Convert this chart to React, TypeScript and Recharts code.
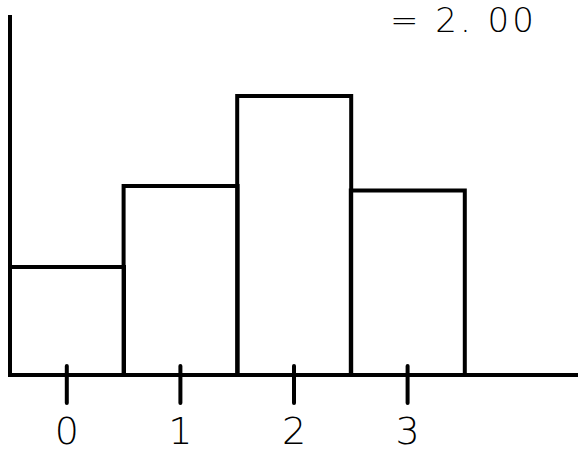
import React from 'react';
import { BarChart, Bar, XAxis, YAxis } from 'recharts';

// hand-drawn histogram: bin labels and bar heights
const bins = ['0', '1', '2', '3', ''];
const counts = [1.2, 2.1, 3.1, 2.05, null];
const yTicks = [0, 4];
const noteText = '= 2. 00';

const data = bins.map((bin, i) => ({ bin, count: counts[i] }));

const INK = '#000000';
const FONT = '"DejaVu Sans", sans-serif';
const TICK_SIZE = 28;
const TICK_MARGIN = 14;

// tick mark crosses the axis; empty bins get no mark
const BinTick = (props: any) => {
  const { x, y, payload } = props;
  if (!payload || payload.value === '') return null;
  const axisY = y - TICK_SIZE - TICK_MARGIN;
  return (
    <g>
      <line x1={x} x2={x} y1={axisY - 9} y2={axisY + TICK_SIZE} stroke={INK} strokeWidth={4} strokeLinecap="round" />
      <text x={x} y={y} dy="0.71em" textAnchor="middle" fill={INK} fontSize={38} fontFamily={FONT} fontWeight={300}>
        {payload.value}
      </text>
    </g>
  );
};

export default function App() {
  return (
    <div style={{ position: 'fixed', top: 0, left: 0, width: 580, height: 465, background: '#fff', overflow: 'hidden' }}>
      <div
        style={{
          position: 'absolute',
          top: 2,
          left: 390,
          fontFamily: FONT,
          fontSize: 34,
          fontWeight: 300,
          lineHeight: '36px',
          color: INK,
          letterSpacing: 3,
          whiteSpace: 'nowrap',
        }}
      >
        {noteText}
      </div>
      <BarChart
        width={580}
        height={465}
        data={data}
        barCategoryGap={0}
        margin={{ top: 15, right: 2, left: 0, bottom: 0 }}
      >
        <YAxis
          width={10}
          domain={[yTicks[0], yTicks[1]]}
          ticks={yTicks}
          tick={false}
          tickLine={false}
          axisLine={{ stroke: INK, strokeWidth: 4 }}
        />
        <XAxis
          dataKey="bin"
          height={90}
          interval={0}
          tickSize={TICK_SIZE}
          tickMargin={TICK_MARGIN}
          axisLine={{ stroke: INK, strokeWidth: 4 }}
          tickLine={false}
          tick={<BinTick />}
        />
        <Bar
          dataKey="count"
          fill="none"
          stroke={INK}
          strokeWidth={4}
          isAnimationActive={false}
        />
      </BarChart>
    </div>
  );
}
